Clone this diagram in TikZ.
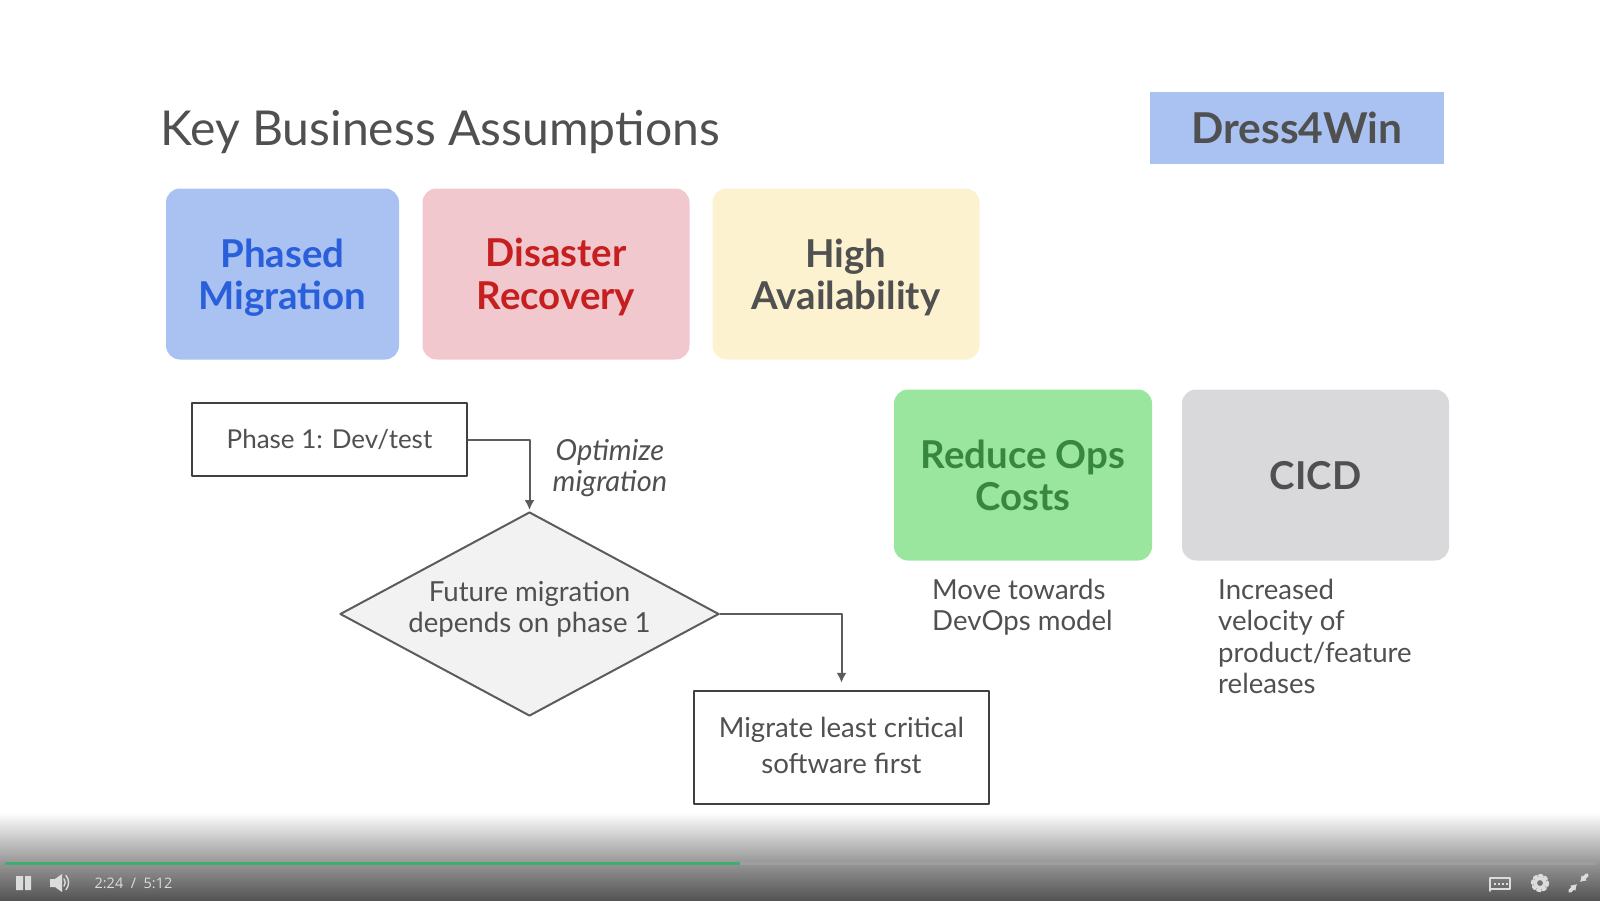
\documentclass[tikz,border=0pt]{standalone}
\usepackage{fontspec}
\setmainfont{Lato}
\newfontfamily\timerfont{Open Sans}
\usetikzlibrary{arrows.meta, shapes.geometric}

\definecolor{inkgray}{HTML}{505050}
\definecolor{linegray}{HTML}{404040}
\definecolor{arrowgray}{HTML}{5C5C5C}
\definecolor{boxblue}{HTML}{A9C2F2}
\definecolor{boxpink}{HTML}{F2C8CF}
\definecolor{boxyellow}{HTML}{FDF2CF}
\definecolor{boxgreen}{HTML}{9AE69F}
\definecolor{boxgray}{HTML}{D9D9DC}
\definecolor{textblue}{HTML}{2A5FDB}
\definecolor{textred}{HTML}{C5201F}
\definecolor{textgreen}{HTML}{38873F}
\definecolor{barlight}{HTML}{DCDCDC}
\definecolor{bargreen}{HTML}{3DAE6F}

\tikzset{
    topic/.style={rounded corners=14pt, inner sep=0pt, align=center, text depth=0pt, font=\fontsize{38.4}{42.5}\selectfont\bfseries},
    flowbox/.style={draw=linegray, line width=2.4pt, fill=white, inner sep=0pt, align=center, text=inkgray, font=\fontsize{27.6}{36}\selectfont},
    bodytext/.style={inner sep=0pt, align=left, text=inkgray, font=\fontsize{27.6}{31.6}\selectfont},
    flowarrow/.style={draw=arrowgray, line width=2pt, -{Latex[length=10pt, width=10pt]}}
}

\begin{document}
\begin{tikzpicture}[
    x=1pt,
    y=-1pt,
    >=Latex,
    line cap=round,
    line join=round
]
\useasboundingbox (0,0) rectangle (1600,900);

\node[anchor=west, inner sep=0pt, text=inkgray, font=\fontsize{48.1}{56}\selectfont] (title) at (160,132) {Key Business Assumptions};
\node[fill=boxblue, minimum width=294pt, minimum height=72pt, inner sep=0pt, text=inkgray, font=\fontsize{42.5}{46}\selectfont\bfseries] (brand) at (1297,128) {Dress4Win};

\node[topic, fill=boxblue, text=textblue, minimum width=233pt, minimum height=171pt] (phased) at (282.5,274) {Phased\\Migration};
\node[topic, fill=boxpink, text=textred, minimum width=267pt, minimum height=171pt] (disaster) at (556,274) {Disaster\\Recovery};
\node[topic, fill=boxyellow, text=inkgray, minimum width=267pt, minimum height=171pt] (avail) at (846,274) {High\\Availability};
\node[topic, fill=boxgreen, text=textgreen, minimum width=258pt, minimum height=171pt] (ops) at (1023,475) {Reduce Ops\\Costs};
\node[topic, fill=boxgray, text=inkgray, minimum width=267pt, minimum height=171pt] (cicd) at (1315.5,475) {CICD};

\node[flowbox, minimum width=275pt, minimum height=73pt, font=\fontsize{26}{36}\selectfont] (phase1) at (329.5,439.5) {Phase 1: Dev/test};
\node[flowbox, shape=diamond, aspect=1.86, fill=black!5, minimum width=379pt, minimum height=204pt, line width=2pt, draw=arrowgray, text depth=14pt, font=\fontsize{27.6}{31.6}\selectfont] (future) at (529.5,614) {Future migration\\depends on phase 1};
\node[flowbox, minimum width=295pt, minimum height=113pt, text depth=4pt] (migrate) at (841.5,747.5) {Migrate least critical\\software first};

\node[bodytext, align=center, font=\fontsize{29}{31.6}\selectfont\itshape] (optimize) at (610,468) {Optimize\\migration};
\node[bodytext, anchor=west] (devops) at (932,607) {Move towards\\DevOps model};
\node[bodytext, anchor=north west] (velocity) at (1218,578.5) {Increased\\velocity of\\product/feature\\releases};

\draw[flowarrow, shorten >=1pt] (phase1.east) -| (future.north);
\draw[flowarrow, shorten >=7pt] (future.east) -| (migrate.north);

% player bar
\shade[top color=white, bottom color=black!42, draw=none] (0,812) rectangle (1600,864);
\shade[top color=black!42, bottom color=black!67, draw=none] (0,864) rectangle (1600,900);
\fill[black!38] (5,861.5) rectangle (1595,864.5);
\fill[bargreen] (5,861.5) rectangle (740,864.5);

\fill[barlight] (16,876) rectangle (23,890) (25,876) rectangle (31,890);
\fill[barlight] (50,879) -- (55,879) -- (62,874) -- (62,892) -- (55,887) -- (50,887) -- cycle;
\draw[barlight, line width=1.4pt] (64,879) arc (-40:40:5.5) (66,875.5) arc (-40:40:11);
\node[text=barlight, inner sep=0pt, font=\timerfont\fontsize{14.5}{17}\selectfont] (timer) at (133.5,883) {2:24\ \ /\ \ 5:12};

\draw[barlight, line width=1.5pt] (1490,878) rectangle (1510,889) (1490,889) -- (1490,891);
\foreach \dotx in {1494,1498,1502,1506}
    \fill[barlight] (\dotx,882.5) rectangle ++(2,2);
\draw[barlight, line width=3pt, dash pattern=on 3pt off 2.8pt] (1540,883) circle (7.6);
\draw[barlight, line width=3.6pt] (1540,883) circle (5);
\draw[barlight, line width=3.6pt, -{Latex[length=6pt, width=8pt]}] (1570,891) -- (1577,884);
\draw[barlight, line width=3.6pt, -{Latex[length=6pt, width=8pt]}] (1587,875) -- (1580,882);

\end{tikzpicture}
\end{document}
